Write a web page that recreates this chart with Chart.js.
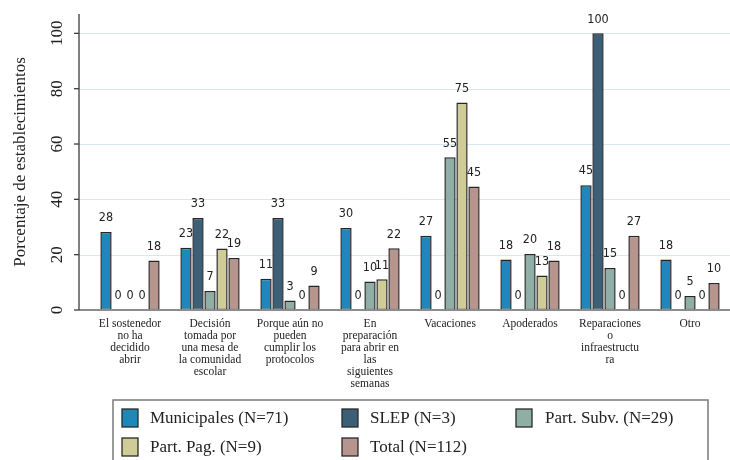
<!DOCTYPE html>
<html>
<head>
<meta charset="utf-8">
<script src="https://cdn.jsdelivr.net/npm/chart.js@4/dist/chart.umd.min.js"></script>
<style>
  html, body { margin: 0; padding: 0; background: #fff; }
  #wrap { width: 730px; height: 460px; position: relative; }
</style>
</head>
<body>
<div id="wrap"><canvas id="myChart"></canvas></div>
<script>
const categories = [
    ["El sostenedor", "no ha", "decidido", "abrir"],
    ["Decisión", "tomada por", "una mesa de", "la comunidad", "escolar"],
    ["Porque aún no", "pueden", "cumplir los", "protocolos"],
    ["En", "preparación", "para abrir en", "las", "siguientes", "semanas"],
    ["Vacaciones"],
    ["Apoderados"],
    ["Reparaciones", "o", "infraestructu", "ra"],
    ["Otro"]
];

const municipales = [28.2, 22.5, 11.3, 29.6, 26.8, 18.3, 45.1, 18.3];
const slep = [0, 33.3, 33.3, 0, 0, 0, 100, 0];
const partSubv = [0, 6.9, 3.4, 10.3, 55.2, 20.2, 15.2, 5.1];
const partPag = [0, 22.2, 0, 11.1, 75, 12.5, 0, 0];
const total = [17.9, 18.8, 8.9, 22.3, 44.6, 17.9, 26.8, 9.8];

const seriesNames = ["Municipales (N=71)", "SLEP (N=3)", "Part. Subv. (N=29)", "Part. Pag. (N=9)", "Total (N=112)"];
const seriesColors = ["#1f88b6", "#3a5f77", "#8fafa6", "#cfcc97", "#b8948f"];
const yTicks = [0, 20, 40, 60, 80, 100];

const serif = "'Liberation Serif', 'Times New Roman', serif";
const narrow = "'Liberation Sans Narrow', 'DejaVu Sans Condensed', sans-serif";

// axis line, grid, rotated tick labels, value labels, legend
const stataLook = {
    id: "stataLook",
    beforeDatasetsDraw(chart) {
        const ctx = chart.ctx;
        const y = chart.scales.y;
        const area = chart.chartArea;
        const axisX = 79;
        ctx.save();
        ctx.strokeStyle = "#d6e9ef";
        ctx.lineWidth = 1;
        yTicks.forEach(t => {
            if (t === 0) return;
            const py = Math.round(y.getPixelForValue(t)) + 0.5;
            ctx.beginPath();
            ctx.moveTo(axisX, py);
            ctx.lineTo(area.right, py);
            ctx.stroke();
        });
        ctx.restore();
    },
    afterDatasetsDraw(chart) {
        const ctx = chart.ctx;
        const y = chart.scales.y;
        const area = chart.chartArea;
        const axisX = 79;
        ctx.save();

        // baseline
        const py0 = y.getPixelForValue(0);
        ctx.strokeStyle = "#8c8c8c";
        ctx.lineWidth = 2;
        ctx.beginPath();
        ctx.moveTo(axisX, py0);
        ctx.lineTo(area.right, py0);
        ctx.stroke();

        // y axis line + ticks
        ctx.strokeStyle = "#3c3c3c";
        ctx.lineWidth = 1.3;
        ctx.beginPath();
        ctx.moveTo(axisX, area.top);
        ctx.lineTo(axisX, py0);
        ctx.stroke();
        ctx.fillStyle = "#222";
        ctx.font = "17px " + serif;
        ctx.textAlign = "center";
        ctx.textBaseline = "middle";
        yTicks.forEach(t => {
            const py = y.getPixelForValue(t);
            ctx.beginPath();
            ctx.moveTo(axisX - 5, py);
            ctx.lineTo(axisX, py);
            ctx.stroke();
            ctx.save();
            ctx.translate(58, py);
            ctx.rotate(-Math.PI / 2);
            ctx.fillText(String(t), 0, 0);
            ctx.restore();
        });

        // value labels
        ctx.font = "12.5px " + narrow;
        ctx.fillStyle = "#222";
        chart.data.datasets.forEach((ds, i) => {
            chart.getDatasetMeta(i).data.forEach((bar, j) => {
                ctx.fillText(String(Math.round(ds.data[j])), bar.x, bar.y - 14);
            });
        });

        // legend
        ctx.strokeStyle = "#7a7a7a";
        ctx.lineWidth = 1.5;
        ctx.beginPath();
        ctx.moveTo(113, 470);
        ctx.lineTo(113, 400);
        ctx.lineTo(708, 400);
        ctx.lineTo(708, 470);
        ctx.stroke();
        const swX = [122, 342, 516];
        const txX = [150, 370, 545];
        const rowY = [418, 447];
        ctx.font = "17px " + serif;
        ctx.textAlign = "left";
        chart.data.datasets.forEach((ds, i) => {
            const col = i % 3, row = Math.floor(i / 3);
            ctx.fillStyle = ds.backgroundColor;
            ctx.fillRect(swX[col], rowY[row] - 9, 16, 18);
            ctx.strokeStyle = "#2a2a2a";
            ctx.lineWidth = 1.3;
            ctx.strokeRect(swX[col], rowY[row] - 9, 16, 18);
            ctx.fillStyle = "#222";
            ctx.fillText(ds.label, txX[col], rowY[row] + 1);
        });
        ctx.restore();
    }
};

const ctx = document.getElementById("myChart").getContext("2d");
const myChart = new Chart(ctx, {
    type: "bar",
    data: {
        labels: categories,
        datasets: [municipales, slep, partSubv, partPag, total].map((d, i) => ({
            label: seriesNames[i],
            data: d,
            backgroundColor: seriesColors[i],
            borderColor: "#262626",
            borderWidth: 1.5,
            borderSkipped: false,
            categoryPercentage: 0.75,
            barPercentage: 0.94
        }))
    },
    options: {
        responsive: true,
        maintainAspectRatio: false,
        animation: false,
        devicePixelRatio: 1,
        layout: { padding: { top: 14, right: 0, bottom: 0, left: 0 } },
        plugins: {
            legend: { display: false },
            tooltip: { enabled: false }
        },
        scales: {
            x: {
                grid: { display: false, drawTicks: false },
                border: { display: false },
                ticks: {
                    color: "#222",
                    padding: 8,
                    maxRotation: 0,
                    autoSkip: false,
                    font: { family: serif, size: 11.5, lineHeight: 1.04 }
                },
                afterFit(scale) { scale.height = 150; }
            },
            y: {
                min: 0,
                max: 107,
                grid: { display: false },
                border: { display: false },
                ticks: { display: false, stepSize: 20 },
                title: {
                    display: true,
                    text: "Porcentaje de establecimientos",
                    color: "#222",
                    font: { family: serif, size: 17 },
                    padding: { top: 10, bottom: 0 }
                },
                afterFit(scale) { scale.width = 90; }
            }
        }
    },
    plugins: [stataLook]
});
</script>
</body>
</html>
